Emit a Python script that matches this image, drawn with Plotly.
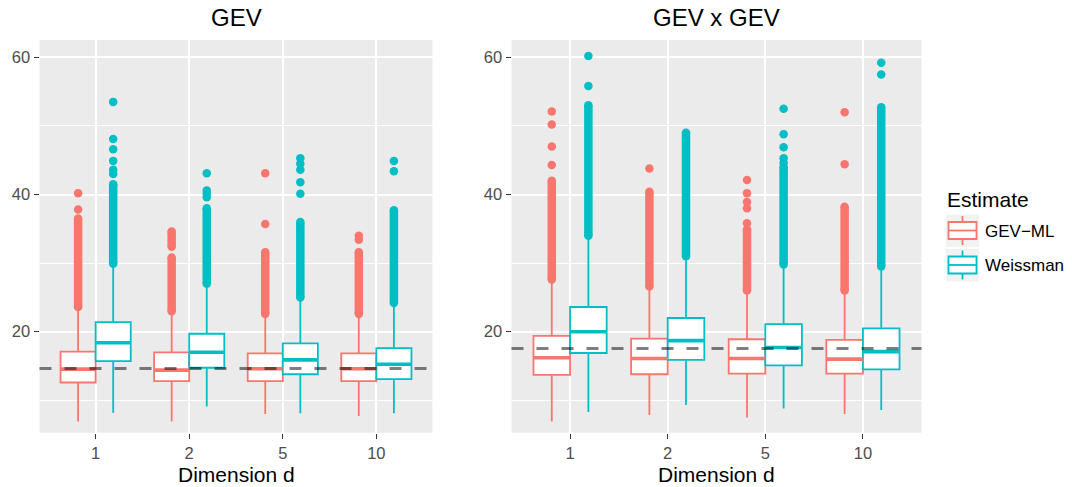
import plotly.graph_objects as go

W, H = 1072, 487

# ---------------- data ----------------
dims = ["1", "2", "5", "10"]
panel_titles = ["GEV", "GEV x GEV"]
series_names = ["GEV\u2212ML", "Weissman"]
true_values = [14.65, 17.55]

# Panel "GEV"
gev_ml_q1 = [12.6, 12.8, 12.8, 12.8]
gev_ml_med = [14.55, 14.4, 14.6, 14.6]
gev_ml_q3 = [17.1, 17.0, 16.85, 16.85]
gev_ml_lo = [6.9, 6.9, 8.0, 7.7]
gev_ml_hi = [23.2, 22.7, 22.2, 22.2]
gev_ml_dense = [[(23.6, 36.5)], [(23.0, 30.8), (32.4, 34.6)], [(22.6, 31.6)], [(22.6, 31.6)]]
gev_ml_extra = [[37.8, 40.2], [], [35.7, 43.1], [33.4, 34.0]]

gev_w_q1 = [15.7, 14.75, 13.8, 13.1]
gev_w_med = [18.4, 17.0, 15.9, 15.25]
gev_w_q3 = [21.4, 19.7, 18.3, 17.6]
gev_w_lo = [8.2, 9.1, 8.1, 8.1]
gev_w_hi = [29.4, 26.6, 24.6, 23.6]
gev_w_dense = [[(29.9, 41.5)], [(27.0, 38.0)], [(25.0, 36.0)], [(24.2, 37.7)]]
gev_w_extra = [[43.0, 43.6, 44.9, 46.6, 48.1, 53.5], [39.6, 40.1, 40.6, 43.1],
               [40.1, 41.8, 43.6, 44.5, 45.3], [43.4, 44.9]]

# Panel "GEV x GEV"
gg_ml_q1 = [13.7, 13.8, 13.9, 13.9]
gg_ml_med = [16.2, 16.1, 16.1, 16.0]
gg_ml_q3 = [19.4, 19.0, 18.9, 18.8]
gg_ml_lo = [6.9, 7.85, 7.5, 8.0]
gg_ml_hi = [27.1, 26.2, 25.6, 25.6]
gg_ml_dense = [[(27.6, 42.0)], [(26.6, 40.4)], [(26.0, 34.9)], [(26.0, 38.2)]]
gg_ml_extra = [[44.3, 47.0, 50.2, 52.1], [43.8], [35.8, 38.0, 38.9, 40.2, 42.1], [44.4, 52.0]]

gg_w_q1 = [16.9, 15.9, 15.1, 14.5]
gg_w_med = [20.0, 18.7, 17.7, 17.1]
gg_w_q3 = [23.6, 22.0, 21.1, 20.5]
gg_w_lo = [8.3, 9.3, 8.8, 8.6]
gg_w_hi = [33.4, 30.4, 29.3, 29.0]
gg_w_dense = [[(34.0, 53.0)], [(31.0, 49.0)], [(29.8, 44.0)], [(29.5, 52.7)]]
gg_w_extra = [[55.8, 60.2], [], [44.6, 45.3, 46.9, 48.8, 52.5], [57.5, 59.2]]

# ---------------- style ----------------
colors = ["#F8766D", "#00BFC4"]
FONT = "Liberation Sans, Arial, sans-serif"
BOX_W = 0.375
DODGE = [-0.1875, 0.1875]
PT = 8.5

panels = [
    dict(ax="x", ay="y", series=[
        (gev_ml_q1, gev_ml_med, gev_ml_q3, gev_ml_lo, gev_ml_hi, gev_ml_dense, gev_ml_extra),
        (gev_w_q1, gev_w_med, gev_w_q3, gev_w_lo, gev_w_hi, gev_w_dense, gev_w_extra)]),
    dict(ax="x2", ay="y2", series=[
        (gg_ml_q1, gg_ml_med, gg_ml_q3, gg_ml_lo, gg_ml_hi, gg_ml_dense, gg_ml_extra),
        (gg_w_q1, gg_w_med, gg_w_q3, gg_w_lo, gg_w_hi, gg_w_dense, gg_w_extra)]),
]

fig = go.Figure()
cat_pos = list(range(1, len(dims) + 1))

for p in panels:
    for si, (q1, med, q3, lo, hi, dense, extra) in enumerate(p["series"]):
        col = colors[si]
        xs = [c + DODGE[si] for c in cat_pos]
        fig.add_trace(go.Box(
            x=xs, q1=q1, median=med, q3=q3, lowerfence=lo, upperfence=hi,
            width=BOX_W, whiskerwidth=0, boxpoints=False, orientation="v",
            fillcolor="white", line=dict(color=col, width=1.8),
            xaxis=p["ax"], yaxis=p["ay"], showlegend=False, hoverinfo="skip"))
        mx, my = [], []
        for x, m in zip(xs, med):
            mx += [x - BOX_W / 2, x + BOX_W / 2, None]
            my += [m, m, None]
        fig.add_trace(go.Scatter(x=mx, y=my, mode="lines",
                                 line=dict(color=col, width=3.6),
                                 xaxis=p["ax"], yaxis=p["ay"], showlegend=False,
                                 hoverinfo="skip"))
        # outliers: dense columns + isolated points
        dx, dy = [], []
        for x, segs in zip(xs, dense):
            for a, b in segs:
                dx += [x, x, None]
                dy += [a, b, None]
        fig.add_trace(go.Scatter(x=dx, y=dy, mode="lines+markers",
                                 line=dict(color=col, width=PT),
                                 marker=dict(color=col, size=PT),
                                 xaxis=p["ax"], yaxis=p["ay"], showlegend=False,
                                 hoverinfo="skip"))
        ex, ey = [], []
        for x, vals in zip(xs, extra):
            ex += [x] * len(vals)
            ey += vals
        fig.add_trace(go.Scatter(x=ex, y=ey, mode="markers",
                                 marker=dict(color=col, size=PT),
                                 xaxis=p["ax"], yaxis=p["ay"], showlegend=False,
                                 hoverinfo="skip"))

# axes
x_domains = [[39.5 / W, 432.5 / W], [511.5 / W, 921.5 / W]]
y_domain = [1 - 432.7 / H, 1 - 40 / H]
yr = [5.28, 62.52]
TICKFONT = dict(family=FONT, size=16.5, color="#4D4D4D")

def xaxis(dom, anchor):
    return dict(domain=dom, anchor=anchor, range=[0.4, len(dims) + 0.6],
                tickvals=cat_pos, ticktext=dims, showgrid=True, gridcolor="white",
                gridwidth=1.5, zeroline=False, ticks="outside", ticklen=5,
                tickwidth=1.2, tickcolor="#333333", tickfont=TICKFONT,
                showline=False, fixedrange=True)

def yaxis(anchor):
    return dict(domain=y_domain, anchor=anchor, range=yr, tickvals=[20, 40, 60],
                showgrid=True, gridcolor="white", gridwidth=1.5, zeroline=False,
                ticks="outside", ticklen=5, tickwidth=1.2, tickcolor="#333333",
                tickfont=TICKFONT,
                minor=dict(tickvals=[10, 30, 50], showgrid=True, gridcolor="white",
                           gridwidth=0.8, ticks=""),
                showline=False, fixedrange=True)

shapes = []
for i, p in enumerate(panels):
    shapes.append(dict(type="line", xref=p["ax"] + " domain", yref=p["ay"],
                       x0=0, x1=1, y0=true_values[i], y1=true_values[i],
                       line=dict(color="rgba(0,0,0,0.5)", width=3, dash="12px,13px"),
                       layer="above"))

annotations = []
for i, t in enumerate(panel_titles):
    cx = (x_domains[i][0] + x_domains[i][1]) / 2
    annotations.append(dict(text=t, x=cx, y=1 - 18 / H, xref="paper", yref="paper",
                            showarrow=False, xanchor="center", yanchor="middle",
                            font=dict(family=FONT, size=24, color="black")))
    annotations.append(dict(text="Dimension d", x=cx, y=1 - 474 / H, xref="paper",
                            yref="paper", showarrow=False, xanchor="center",
                            yanchor="middle",
                            font=dict(family=FONT, size=21, color="black")))

# legend (drawn manually, ggplot style)
def px(x):
    return x / W

def py(y):
    return 1 - y / H

annotations.append(dict(text="Estimate", x=px(945), y=py(199.5), xref="paper", yref="paper",
                        showarrow=False, xanchor="left", yanchor="middle",
                        font=dict(family=FONT, size=21, color="black")))
for i, name in enumerate(series_names):
    off = 34.5 * i
    col = colors[i]
    shapes.append(dict(type="rect", xref="paper", yref="paper",
                       x0=px(946), x1=px(979), y0=py(214.5 + off), y1=py(247 + off),
                       fillcolor="#F2F2F2", line=dict(width=0), layer="above"))
    shapes.append(dict(type="line", xref="paper", yref="paper",
                       x0=px(962.5), x1=px(962.5), y0=py(216 + off), y1=py(245 + off),
                       line=dict(color=col, width=1.8), layer="above"))
    shapes.append(dict(type="rect", xref="paper", yref="paper",
                       x0=px(948.5), x1=px(976.5), y0=py(222 + off), y1=py(239 + off),
                       fillcolor="white", line=dict(color=col, width=1.8), layer="above"))
    shapes.append(dict(type="line", xref="paper", yref="paper",
                       x0=px(948.5), x1=px(976.5), y0=py(230.5 + off), y1=py(230.5 + off),
                       line=dict(color=col, width=1.8), layer="above"))
    annotations.append(dict(text=name, x=px(983), y=py(231 + off), xref="paper",
                            yref="paper", showarrow=False, xanchor="left",
                            yanchor="middle",
                            font=dict(family=FONT, size=17, color="black")))

fig.update_layout(
    width=W, height=H, margin=dict(l=0, r=0, t=0, b=0),
    paper_bgcolor="white", plot_bgcolor="#EBEBEB",
    boxmode="overlay", showlegend=False,
    xaxis=xaxis(x_domains[0], "y"), yaxis=yaxis("x"),
    xaxis2=xaxis(x_domains[1], "y2"), yaxis2=yaxis("x2"),
    shapes=shapes, annotations=annotations,
    font=dict(family=FONT),
)

fig.write_html("out.html")
